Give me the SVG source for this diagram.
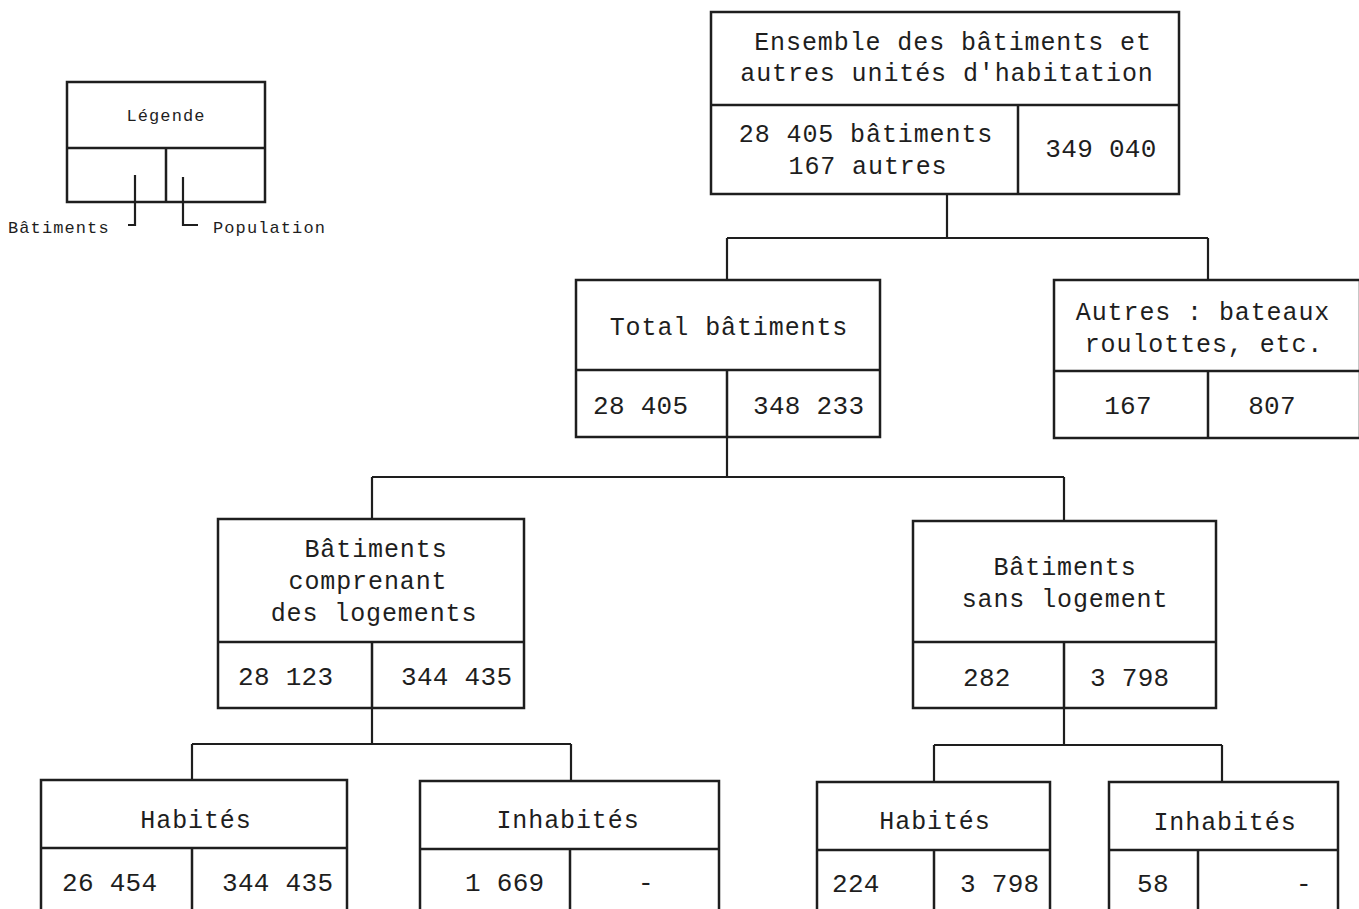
<svg xmlns="http://www.w3.org/2000/svg" width="1359" height="909" viewBox="0 0 1359 909">
<style>
.b{fill:none;stroke:#1e1e1e;stroke-width:2.5}
.c{fill:none;stroke:#1e1e1e;stroke-width:2.2}
text{font-family:"Liberation Mono","DejaVu Sans Mono",monospace;fill:#1e1e1e}
.t{font-size:25px;letter-spacing:0.9px}
.m{text-anchor:middle}
.n{font-size:26px;letter-spacing:0.3px}
.l{font-size:17px;letter-spacing:1.1px}
</style>
<rect width="1359" height="909" fill="#ffffff"/>
<g id="connectors">
<path class="c" d="M947 194V238M727 238H1208M727 238V280M1208 238V280"/>
<path class="c" d="M727 437V477M372 477H1064M372 477V519M1064 477V521"/>
<path class="c" d="M372 708V744M192 744H571M192 744V780M571 744V781"/>
<path class="c" d="M1064 708V745M934 745H1222M934 745V782M1222 745V782"/>
</g>
<g id="legend">
<rect class="b" x="67" y="82" width="198" height="120"/>
<path class="b" d="M67 148H265M166 148V202"/>
<path class="c" d="M135 175V225H128M183 177V225H198"/>
<text class="l m" x="166" y="121">Légende</text>
<text class="l" x="8" y="233">Bâtiments</text>
<text class="l" x="213" y="233">Population</text>
</g>
<g id="node-ensemble">
<rect class="b" x="711" y="12" width="468" height="182"/>
<path class="b" d="M711 105H1179M1018 105V194"/>
<text class="t m" x="953" y="50">Ensemble des bâtiments et</text>
<text class="t m" x="947" y="81">autres unités d'habitation</text>
<text class="t m" x="866" y="142">28 405 bâtiments</text>
<text class="t m" x="868" y="174">167 autres</text>
<text class="n m" x="1101" y="157">349 040</text>
</g>
<g id="node-total">
<rect class="b" x="576" y="280" width="304" height="157"/>
<path class="b" d="M576 370H880M727 370V437"/>
<text class="t m" x="729" y="335">Total bâtiments</text>
<text class="n" x="593" y="414">28 405</text>
<text class="n" x="753" y="414">348 233</text>
</g>
<g id="node-autres">
<rect class="b" x="1054" y="280" width="306" height="158"/>
<path class="b" d="M1054 371H1360M1208 371V438"/>
<text class="t m" x="1203" y="320">Autres : bateaux</text>
<text class="t m" x="1204" y="352">roulottes, etc.</text>
<text class="n m" x="1128" y="414">167</text>
<text class="n m" x="1272" y="414">807</text>
</g>
<g id="node-comprenant">
<rect class="b" x="218" y="519" width="306" height="189"/>
<path class="b" d="M218 642H524M372 642V708"/>
<text class="t m" x="376" y="557">Bâtiments</text>
<text class="t m" x="368" y="589">comprenant</text>
<text class="t m" x="374" y="621">des logements</text>
<text class="n" x="238" y="685">28 123</text>
<text class="n" x="401" y="685">344 435</text>
</g>
<g id="node-sans">
<rect class="b" x="913" y="521" width="303" height="187"/>
<path class="b" d="M913 642H1216M1064 642V708"/>
<text class="t m" x="1065" y="575">Bâtiments</text>
<text class="t m" x="1065" y="607">sans logement</text>
<text class="n" x="963" y="686">282</text>
<text class="n" x="1090" y="686">3 798</text>
</g>
<g id="node-habites-1">
<rect class="b" x="41" y="780" width="306" height="160"/>
<path class="b" d="M41 848H347M192 848V940"/>
<text class="t m" x="196" y="828">Habités</text>
<text class="n" x="62" y="891">26 454</text>
<text class="n" x="222" y="891">344 435</text>
</g>
<g id="node-inhabites-1">
<rect class="b" x="420" y="781" width="299" height="160"/>
<path class="b" d="M420 849H719M570 849V941"/>
<text class="t m" x="568" y="828">Inhabités</text>
<text class="n" x="465" y="891">1 669</text>
<text class="n m" x="646" y="891">-</text>
</g>
<g id="node-habites-2">
<rect class="b" x="817" y="782" width="233" height="160"/>
<path class="b" d="M817 850H1050M934 850V942"/>
<text class="t m" x="935" y="829">Habités</text>
<text class="n" x="832" y="892">224</text>
<text class="n" x="960" y="892">3 798</text>
</g>
<g id="node-inhabites-2">
<rect class="b" x="1109" y="782" width="229" height="160"/>
<path class="b" d="M1109 850H1338M1198 850V942"/>
<text class="t m" x="1225" y="830">Inhabités</text>
<text class="n" x="1137" y="892">58</text>
<text class="n m" x="1304" y="892">-</text>
</g>
</svg>
